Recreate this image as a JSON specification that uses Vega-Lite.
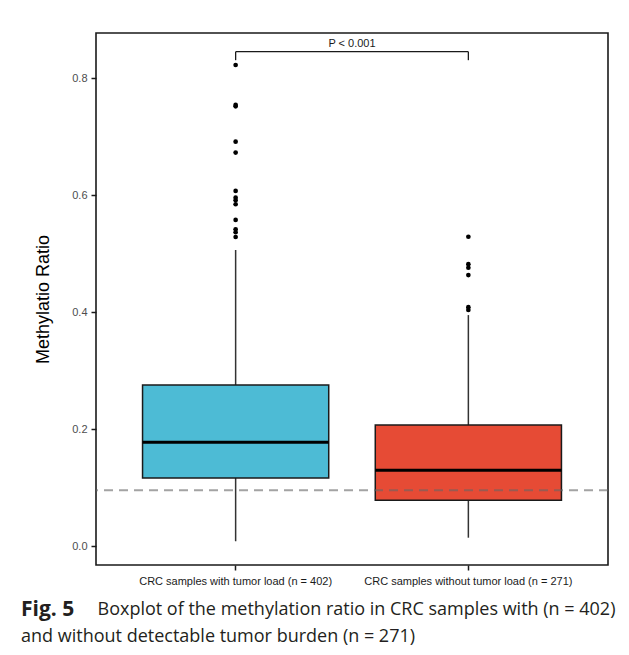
{
  "$schema": "https://vega.github.io/schema/vega-lite/v6.json",
  "width": 512,
  "height": 532,
  "autosize": {"type": "none"},
  "padding": {"left": 96, "top": 33, "right": 21, "bottom": 90},
  "background": "white",
  "config": {
    "view": {"stroke": "#1a1a1a", "strokeWidth": 1.6},
    "font": "Liberation Sans",
    "axisY": {
      "grid": false,
      "domain": false,
      "tickColor": "#1a1a1a",
      "tickWidth": 1.5,
      "tickSize": 5,
      "labelFontSize": 11,
      "labelColor": "#4d4d4d",
      "labelPadding": 4,
      "titleFont": "Liberation Sans",
      "titleFontSize": 18,
      "titleFontWeight": "normal",
      "titleColor": "#000000",
      "titlePadding": 19
    },
    "axisX": {
      "grid": false,
      "domain": false,
      "tickColor": "#1a1a1a",
      "tickWidth": 1.5,
      "tickSize": 5,
      "labelAngle": 0,
      "labelFontSize": 11,
      "labelColor": "#1a1a1a",
      "labelPadding": 5,
      "labelLimit": 300
    }
  },
  "title": {
    "text": "Fig. 5",
    "subtitle": "and without detectable tumor burden (n = 271)",
    "orient": "bottom",
    "anchor": "start",
    "frame": "group",
    "dx": -75,
    "offset": -19,
    "font": "Open Sans",
    "fontSize": 21,
    "fontWeight": "bold",
    "color": "#231f20",
    "subtitleFont": "Open Sans",
    "subtitleFontSize": 18,
    "subtitleFontWeight": "normal",
    "subtitleColor": "#231f20",
    "subtitlePadding": 8
  },
  "datasets": {
    "stats": [
      {"group": "CRC samples with tumor load (n = 402)", "lower": 0.008, "q1": 0.1163, "median": 0.1774, "q3": 0.2754, "upper": 0.5063},
      {"group": "CRC samples without tumor load (n = 271)", "lower": 0.0142, "q1": 0.0782, "median": 0.1295, "q3": 0.207, "upper": 0.395}
    ],
    "outliers": [
      {"group": "CRC samples with tumor load (n = 402)", "value": 0.8228},
      {"group": "CRC samples with tumor load (n = 402)", "value": 0.7544},
      {"group": "CRC samples with tumor load (n = 402)", "value": 0.7520},
      {"group": "CRC samples with tumor load (n = 402)", "value": 0.6916},
      {"group": "CRC samples with tumor load (n = 402)", "value": 0.6730},
      {"group": "CRC samples with tumor load (n = 402)", "value": 0.6073},
      {"group": "CRC samples with tumor load (n = 402)", "value": 0.5958},
      {"group": "CRC samples with tumor load (n = 402)", "value": 0.5914},
      {"group": "CRC samples with tumor load (n = 402)", "value": 0.5846},
      {"group": "CRC samples with tumor load (n = 402)", "value": 0.5577},
      {"group": "CRC samples with tumor load (n = 402)", "value": 0.5418},
      {"group": "CRC samples with tumor load (n = 402)", "value": 0.5367},
      {"group": "CRC samples with tumor load (n = 402)", "value": 0.5286},
      {"group": "CRC samples without tumor load (n = 271)", "value": 0.5290},
      {"group": "CRC samples without tumor load (n = 271)", "value": 0.4820},
      {"group": "CRC samples without tumor load (n = 271)", "value": 0.4760},
      {"group": "CRC samples without tumor load (n = 271)", "value": 0.4635},
      {"group": "CRC samples without tumor load (n = 271)", "value": 0.4085},
      {"group": "CRC samples without tumor load (n = 271)", "value": 0.4037}
    ],
    "threshold": [{"value": 0.0953}],
    "bracket": [
      {"group": "CRC samples with tumor load (n = 402)", "group2": "CRC samples without tumor load (n = 271)", "top": 0.8455, "bottom": 0.831, "label": "P < 0.001"}
    ],
    "bracketEnds": [
      {"group": "CRC samples with tumor load (n = 402)", "top": 0.8455, "bottom": 0.831},
      {"group": "CRC samples without tumor load (n = 271)", "top": 0.8455, "bottom": 0.831}
    ]
  },
  "encoding": {
    "x": {
      "field": "group",
      "type": "nominal",
      "sort": null,
      "scale": {"type": "band", "paddingInner": 0.2, "paddingOuter": 0.2},
      "axis": {
        "title": "Boxplot of the methylation ratio in CRC samples with (n = 402)",
        "titleX": 1,
        "titleY": 49,
        "titleAlign": "left",
        "titleAnchor": null,
        "titleBaseline": "alphabetic",
        "titleFont": "Open Sans",
        "titleFontSize": 18,
        "titleFontWeight": "normal",
        "titleColor": "#231f20"
      }
    }
  },
  "layer": [
    {
      "data": {"name": "stats"},
      "mark": {"type": "rule", "color": "#333333", "strokeWidth": 1.5},
      "encoding": {
        "y": {"field": "lower", "type": "quantitative", "title": "Methylatio Ratio", "scale": {"domain": [-0.0325, 0.8775], "nice": false, "zero": false}, "axis": {"values": [0, 0.2, 0.4, 0.6, 0.8], "format": ".1f"}},
        "y2": {"field": "upper"}
      }
    },
    {
      "data": {"name": "stats"},
      "mark": {"type": "bar", "stroke": "#1a1a1a", "strokeWidth": 1.5},
      "encoding": {
        "y": {"field": "q1", "type": "quantitative", "title": "Methylatio Ratio", "scale": {"domain": [-0.0325, 0.8775], "nice": false, "zero": false}, "axis": {"values": [0, 0.2, 0.4, 0.6, 0.8], "format": ".1f"}},
        "y2": {"field": "q3"},
        "fill": {
          "field": "group",
          "type": "nominal",
          "scale": {"domain": ["CRC samples with tumor load (n = 402)", "CRC samples without tumor load (n = 271)"], "range": ["#4DBBD5", "#E64B35"]},
          "legend": null
        }
      }
    },
    {
      "data": {"name": "stats"},
      "mark": {"type": "bar", "stroke": "#000000", "strokeWidth": 3, "fillOpacity": 0},
      "encoding": {
        "y": {"field": "median", "type": "quantitative", "title": "Methylatio Ratio", "scale": {"domain": [-0.0325, 0.8775], "nice": false, "zero": false}, "axis": {"values": [0, 0.2, 0.4, 0.6, 0.8], "format": ".1f"}},
        "y2": {"field": "median"}
      }
    },
    {
      "data": {"name": "threshold"},
      "mark": {"type": "rule", "color": "#666666", "opacity": 0.6, "strokeWidth": 2, "strokeDash": [9, 6]},
      "encoding": {
        "x": null,
        "y": {"field": "value", "type": "quantitative", "title": "Methylatio Ratio", "scale": {"domain": [-0.0325, 0.8775], "nice": false, "zero": false}, "axis": {"values": [0, 0.2, 0.4, 0.6, 0.8], "format": ".1f"}}
      }
    },
    {
      "data": {"name": "outliers"},
      "mark": {"type": "circle", "color": "#000000", "opacity": 1, "size": 22},
      "encoding": {
        "y": {"field": "value", "type": "quantitative", "title": "Methylatio Ratio", "scale": {"domain": [-0.0325, 0.8775], "nice": false, "zero": false}, "axis": {"values": [0, 0.2, 0.4, 0.6, 0.8], "format": ".1f"}}
      }
    },
    {
      "data": {"name": "bracket"},
      "mark": {"type": "rule", "color": "#1a1a1a", "strokeWidth": 1.3},
      "encoding": {
        "x2": {"field": "group2"},
        "y": {"field": "top", "type": "quantitative", "title": "Methylatio Ratio", "scale": {"domain": [-0.0325, 0.8775], "nice": false, "zero": false}, "axis": {"values": [0, 0.2, 0.4, 0.6, 0.8], "format": ".1f"}}
      }
    },
    {
      "data": {"name": "bracketEnds"},
      "mark": {"type": "rule", "color": "#1a1a1a", "strokeWidth": 1.3},
      "encoding": {
        "y": {"field": "top", "type": "quantitative", "title": "Methylatio Ratio", "scale": {"domain": [-0.0325, 0.8775], "nice": false, "zero": false}, "axis": {"values": [0, 0.2, 0.4, 0.6, 0.8], "format": ".1f"}},
        "y2": {"field": "bottom"}
      }
    },
    {
      "data": {"name": "bracket"},
      "mark": {"type": "text", "font": "Liberation Sans", "fontSize": 11, "color": "#1a1a1a", "baseline": "alphabetic", "align": "center", "dy": -5},
      "encoding": {
        "x": {"field": "group", "type": "nominal", "bandPosition": 1.125},
        "y": {"field": "top", "type": "quantitative", "title": "Methylatio Ratio", "scale": {"domain": [-0.0325, 0.8775], "nice": false, "zero": false}, "axis": {"values": [0, 0.2, 0.4, 0.6, 0.8], "format": ".1f"}},
        "text": {"field": "label"}
      }
    }
  ]
}
